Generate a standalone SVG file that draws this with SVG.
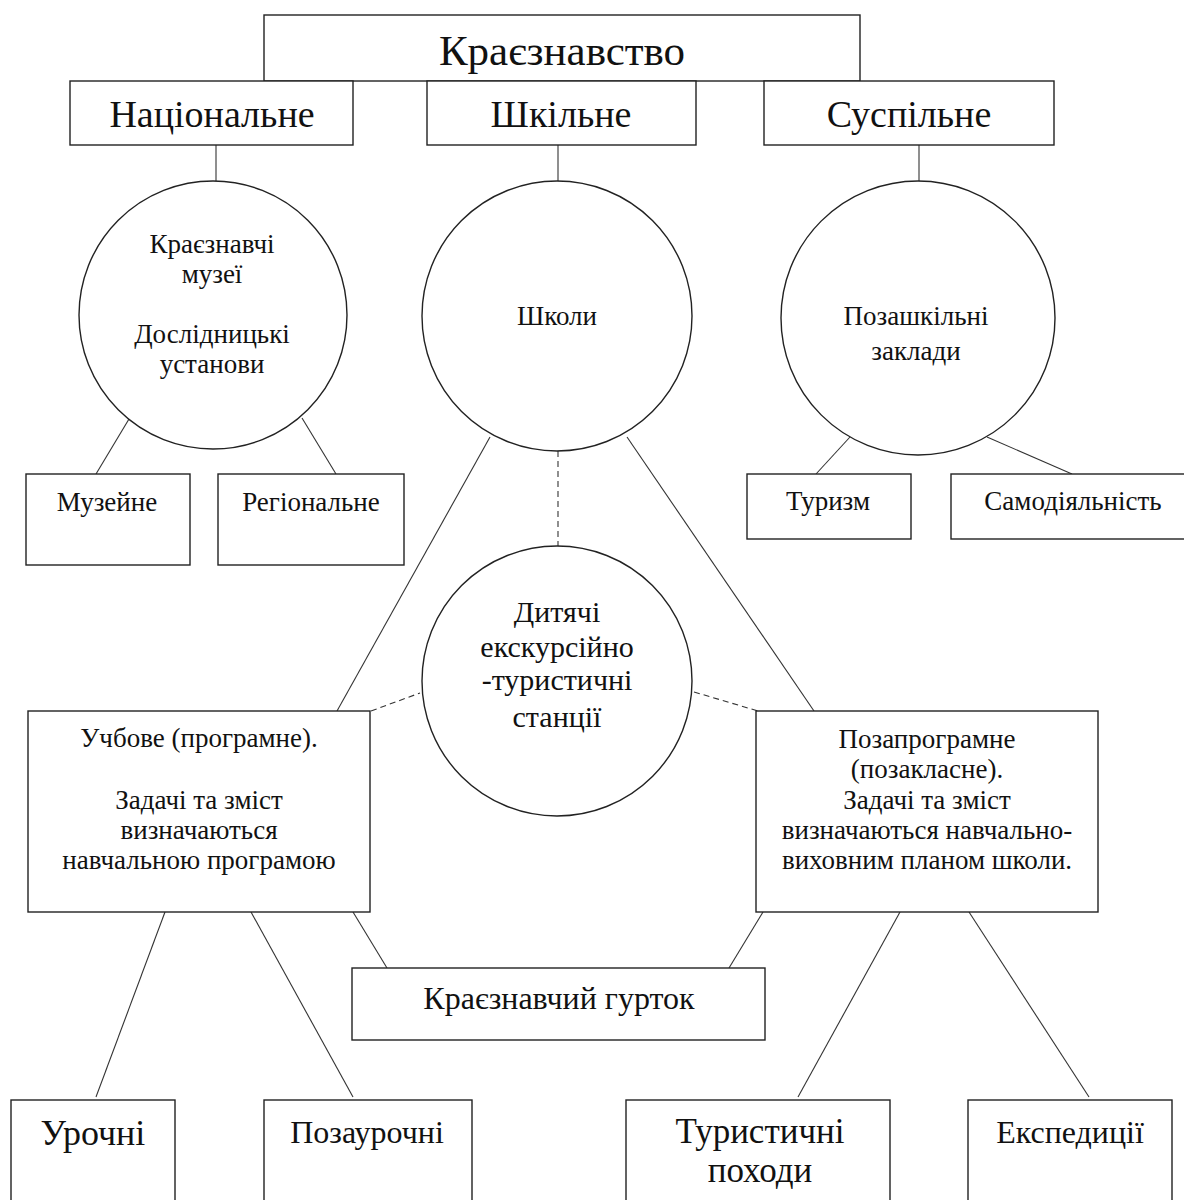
<svg xmlns="http://www.w3.org/2000/svg" width="1184" height="1200" viewBox="0 0 1184 1200">
<style>
.n{fill:#fff;stroke:#222;stroke-width:1.4}
.c line{stroke:#333;stroke-width:1.1}
.c .d{stroke-dasharray:6,4}
text{font-family:"Liberation Serif","Times New Roman",serif;fill:#111;text-anchor:middle}
</style>
<rect width="1184" height="1200" fill="#fff"/>
<g class="c" id="connectors">
<line x1="216" y1="145" x2="216" y2="181"/>
<line x1="558" y1="145" x2="558" y2="181"/>
<line x1="919" y1="145" x2="919" y2="181"/>
<line x1="129" y1="419" x2="96" y2="474"/>
<line x1="302" y1="418" x2="336" y2="474"/>
<line x1="850" y1="437" x2="816" y2="474"/>
<line x1="987" y1="437" x2="1072" y2="474"/>
<line x1="490" y1="437" x2="337" y2="711"/>
<line x1="627" y1="437" x2="814" y2="711"/>
<line class="d" x1="558" y1="451" x2="558" y2="546"/>
<line class="d" x1="371" y1="711" x2="420" y2="693"/>
<line class="d" x1="694" y1="692" x2="758" y2="711"/>
<line x1="353" y1="912" x2="387" y2="968"/>
<line x1="763" y1="912" x2="729" y2="968"/>
<line x1="165" y1="912" x2="96" y2="1097"/>
<line x1="251" y1="912" x2="353" y2="1097"/>
<line x1="900" y1="912" x2="798" y2="1097"/>
<line x1="969" y1="912" x2="1089" y2="1097"/>
</g>
<g id="kraieznavstvo"><rect class="n" x="264" y="15" width="596" height="66"/><text x="562" y="65" font-size="43">Краєзнавство</text></g>
<g id="natsionalne"><rect class="n" x="70" y="81" width="283" height="64"/><text x="212" y="127" font-size="38">Національне</text></g>
<g id="shkilne"><rect class="n" x="427" y="81" width="269" height="64"/><text x="561" y="127" font-size="38">Шкільне</text></g>
<g id="suspilne"><rect class="n" x="764" y="81" width="290" height="64"/><text x="909" y="127" font-size="38">Суспільне</text></g>
<g id="muzei"><circle class="n" cx="213" cy="315" r="134"/>
<text font-size="27"><tspan x="212" y="253">Краєзнавчі</tspan><tspan x="212" y="283">музеї</tspan><tspan x="212" y="343">Дослідницькі</tspan><tspan x="212" y="373">установи</tspan></text></g>
<g id="shkoly"><circle class="n" cx="557" cy="316" r="135"/><text x="557" y="325" font-size="27">Школи</text></g>
<g id="pozashkilni"><circle class="n" cx="918" cy="318" r="137"/>
<text font-size="27"><tspan x="916" y="325">Позашкільні</tspan><tspan x="916" y="360">заклади</tspan></text></g>
<g id="muzeine"><rect class="n" x="26" y="474" width="164" height="91"/><text x="107" y="511" font-size="27">Музейне</text></g>
<g id="rehionalne"><rect class="n" x="218" y="474" width="186" height="91"/><text x="311" y="511" font-size="27">Регіональне</text></g>
<g id="turyzm"><rect class="n" x="747" y="474" width="164" height="65"/><text x="828" y="510" font-size="27">Туризм</text></g>
<g id="samodiialnist"><rect class="n" x="951" y="474" width="240" height="65"/><text x="1073" y="510" font-size="27">Самодіяльність</text></g>
<g id="stantsii"><circle class="n" cx="557" cy="681" r="135"/>
<text font-size="30"><tspan x="557" y="622">Дитячі</tspan><tspan x="557" y="657">екскурсійно</tspan><tspan x="557" y="690">-туристичні</tspan><tspan x="557" y="727">станції</tspan></text></g>
<g id="uchbove"><rect class="n" x="28" y="711" width="342" height="201"/>
<text font-size="27"><tspan x="199" y="747">Учбове (програмне).</tspan><tspan x="199" y="809">Задачі та зміст</tspan><tspan x="199" y="839">визначаються</tspan><tspan x="199" y="869">навчальною програмою</tspan></text></g>
<g id="pozaprohramne"><rect class="n" x="756" y="711" width="342" height="201"/>
<text font-size="27"><tspan x="927" y="748">Позапрограмне</tspan><tspan x="927" y="778">(позакласне).</tspan><tspan x="927" y="809">Задачі та зміст</tspan><tspan x="927" y="839">визначаються навчально-</tspan><tspan x="927" y="869">виховним планом школи.</tspan></text></g>
<g id="hurtok"><rect class="n" x="352" y="968" width="413" height="72"/><text x="559" y="1009" font-size="32">Краєзнавчий гурток</text></g>
<g id="urochni"><rect class="n" x="11" y="1100" width="164" height="110"/><text x="93" y="1145" font-size="36">Урочні</text></g>
<g id="pozaurochni"><rect class="n" x="264" y="1100" width="208" height="110"/><text x="367" y="1143" font-size="32">Позаурочні</text></g>
<g id="pokhody"><rect class="n" x="626" y="1100" width="264" height="110"/>
<text font-size="35"><tspan x="760" y="1143">Туристичні</tspan><tspan x="760" y="1182">походи</tspan></text></g>
<g id="ekspedytsii"><rect class="n" x="968" y="1100" width="204" height="110"/><text x="1070" y="1143" font-size="32">Експедиції</text></g>
</svg>
